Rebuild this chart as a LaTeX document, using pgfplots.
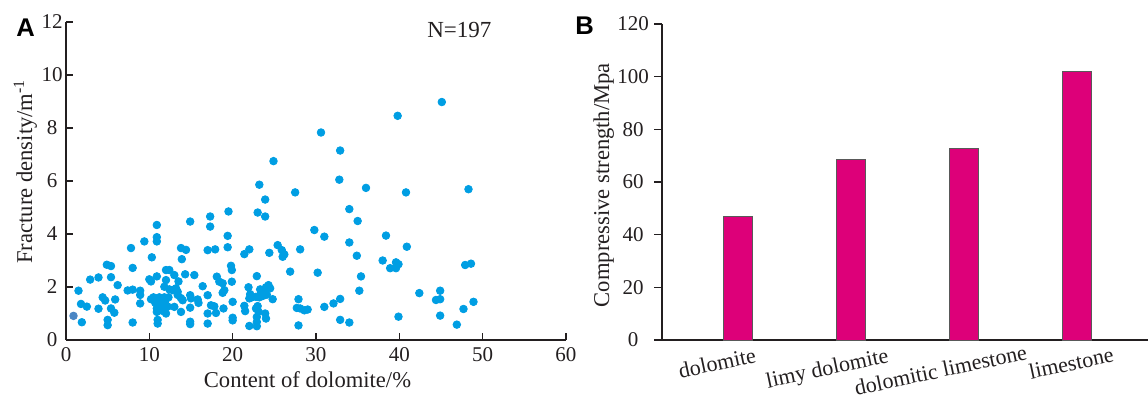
\documentclass[border=0pt]{standalone}
\usepackage{fontspec}
\setmainfont{Liberation Serif}
\newfontfamily\panelfont{Liberation Sans}
\usepackage{pgfplots}
\pgfplotsset{compat=1.18}
\definecolor{dotblue}{RGB}{0,158,227}
\definecolor{dotgrey}{RGB}{74,134,196}
\definecolor{barmag}{RGB}{221,0,121}
\definecolor{axisk}{RGB}{35,31,32}
\pgfplotsset{
  myaxis/.style={
    scale only axis, anchor=south west, clip=false,
    axis lines=left,
    axis line style={-, line width=1pt, color=axisk},
    every outer x axis line/.append style={-},
    every outer y axis line/.append style={-},
    every inner x axis line/.append style={-},
    every inner y axis line/.append style={-},
    tick style={line width=0.8pt, color=axisk},
    ticklabel style={font=\rmfamily\fontsize{10.5}{12}\selectfont, color=axisk},
    /pgf/number format/assume math mode=true,
    label style={font=\fontsize{11.3}{13}\selectfont, color=axisk},
  }
}
\begin{document}
\begin{tikzpicture}
\path[use as bounding box] (0,0) rectangle (574pt,198pt);
\begin{axis}[myaxis,
  at={(33pt,28pt)}, width=250pt, height=159pt,
  xmin=0, xmax=60, ymin=0, ymax=12,
  xtick={0,10,...,60}, ytick={0,2,...,12},
  tick align=inside, major tick length=3.5pt,
  yticklabel style={anchor=center, xshift=-7pt},
  xlabel={Content of dolomite/\%},
  xlabel style={at={(axis description cs:0.483,0)}, anchor=base, yshift=-24pt},
  ylabel={Fracture density/m\textsuperscript{-1}},
  ylabel style={at={(axis description cs:-0.068,0.53)}, anchor=base},
]
\addplot[only marks, mark=*, mark size=1.9pt, color=dotgrey] coordinates {(0.9,0.91)};
\addplot[only marks, mark=*, mark size=1.9pt, color=dotblue] table {
x y
1.5 1.86
1.9 0.67
1.8 1.36
2.5 1.26
2.9 2.28
3.9 2.36
3.9 1.18
4.4 1.61
4.7 1.49
5.0 0.76
5.0 0.56
4.9 2.84
5.4 2.79
5.4 2.37
5.4 1.19
5.8 1.03
5.9 1.53
6.2 2.07
7.4 1.87
8.0 1.90
7.8 3.47
8.0 2.72
8.0 0.66
8.9 1.86
8.9 1.70
8.9 1.38
9.4 3.72
10.3 3.12
10.0 2.29
10.2 2.21
10.9 4.34
10.9 3.88
10.9 3.72
10.9 2.40
10.2 1.54
12.0 2.64
12.4 2.64
11.8 2.01
12.0 2.26
10.5 1.61
10.9 1.56
11.2 1.61
11.5 1.56
11.8 1.61
10.7 1.41
11.1 1.41
11.5 1.44
11.9 1.46
12.3 1.61
11.0 1.26
11.4 1.21
11.8 1.31
12.2 1.26
11.5 1.11
10.9 1.19
10.9 1.06
11.0 0.76
11.0 0.62
12.0 1.00
13.0 2.45
12.8 1.88
13.2 1.95
13.0 1.25
13.8 3.47
14.4 3.40
13.9 3.05
13.4 1.70
13.8 1.58
14.0 1.50
13.8 1.06
14.3 2.48
14.9 4.47
14.9 1.69
15.0 1.57
14.9 1.22
14.9 0.69
14.9 0.60
13.5 2.21
12.4 1.91
13.4 1.82
15.4 2.45
15.9 1.40
15.8 1.53
16.4 2.03
17.0 3.39
17.3 4.66
17.3 4.28
17.0 1.69
17.0 1.00
17.0 0.62
17.4 1.31
17.8 1.27
18.0 1.02
17.9 3.42
18.1 2.39
18.4 2.20
18.8 2.14
18.8 1.78
19.0 1.88
18.9 1.19
19.4 3.93
19.4 3.50
19.5 4.85
19.8 2.80
19.9 2.64
19.9 2.20
20.0 1.44
20.0 0.84
20.0 0.74
21.4 3.24
22.0 3.42
21.4 1.29
21.5 1.09
21.9 1.99
22.1 1.73
22.0 1.57
22.3 1.61
22.8 1.63
22.0 0.53
22.9 2.41
23.2 5.86
23.9 5.30
23.0 4.81
23.9 4.66
22.8 1.19
23.0 1.28
23.1 1.07
22.9 0.87
22.9 0.68
22.9 0.52
23.4 1.76
23.8 1.82
24.0 1.99
24.3 2.07
24.5 1.95
24.8 1.54
23.9 1.00
24.0 0.81
24.4 3.29
24.9 6.75
23.2 1.61
23.6 1.66
24.1 1.71
23.3 1.91
25.4 3.58
25.9 3.39
26.0 3.14
26.2 3.23
26.9 2.58
27.5 5.57
28.1 3.42
27.9 1.54
27.7 1.21
28.1 1.19
28.6 1.12
29.0 1.15
27.9 0.55
29.8 4.15
30.2 2.54
31.0 3.90
31.0 1.25
32.1 1.38
32.9 1.55
32.9 0.76
34.0 0.66
34.0 4.94
35.0 4.49
38.4 3.94
34.0 3.68
40.9 3.52
34.9 3.18
38.0 3.00
39.6 2.93
39.9 2.86
38.9 2.71
39.6 2.71
47.9 2.83
48.6 2.88
35.4 2.40
35.2 1.86
42.4 1.77
44.9 1.86
44.4 1.51
44.9 1.54
48.9 1.44
47.7 1.17
39.9 0.88
44.9 0.92
46.9 0.58
32.8 6.05
36.0 5.74
40.8 5.57
48.3 5.69
39.8 8.46
45.1 8.98
30.6 7.83
32.9 7.15
};
\node[anchor=base west, inner sep=0pt, font=\fontsize{11.5}{13}\selectfont, color=axisk] at (axis description cs:0.722,0.95) {N=197};
\end{axis}
\node[anchor=base west, inner sep=0pt, font=\panelfont\bfseries\fontsize{12.8}{14}\selectfont, color=black] at (8pt,179.5pt) {A};
\node[anchor=base west, inner sep=0pt, font=\panelfont\bfseries\fontsize{12.8}{14}\selectfont, color=black] at (287.5pt,180.5pt) {B};
\begin{axis}[myaxis,
  at={(331pt,28pt)}, width=243pt, height=158pt,
  xmin=-0.668, xmax=3.63, ymin=0, ymax=120,
  ytick={0,20,...,120},
  tick align=outside, major tick length=4pt,
  yticklabel style={anchor=center, xshift=-10.5pt},
  xtick={-0.181,2.951}, xticklabels={dolomite, limestone},
  extra x ticks={0.783,1.783}, extra x tick labels={limy dolomite, dolomitic limestone},
  xtick style={draw=none},
  extra x tick style={xtick style={draw=none}, xticklabel style={yshift=-3.6pt}},
  xticklabel style={yshift=-7.5pt, rotate=12, anchor=center, font=\fontsize{11}{13}\selectfont},
  ylabel={Compressive strength/Mpa},
  ylabel style={at={(axis description cs:-0.109,0.49)}, anchor=base},
]
\addplot[ybar, bar width=14.5pt, fill=barmag, draw=gray!70!black, line width=0.4pt] coordinates {(0,47) (1,68.5) (2,72.8) (3,102)};
\end{axis}
\end{tikzpicture}
\end{document}
